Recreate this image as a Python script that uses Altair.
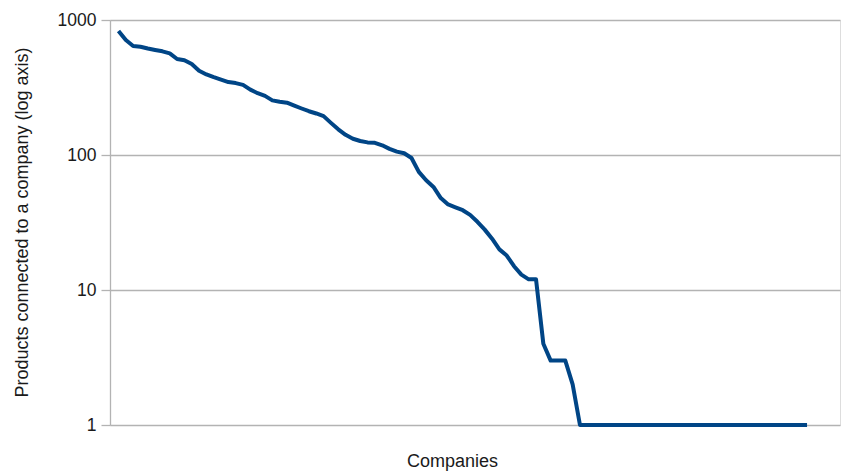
import altair as alt
import pandas as pd

company_index = list(range(95))
products = [
    830, 711, 642, 634, 615, 600, 586, 566, 514, 504,
    472, 421, 395, 377, 362, 347, 341, 331, 305, 287,
    274, 254, 248, 244, 232, 221, 211, 203, 194, 173,
    155, 141, 132, 127, 124, 123, 118, 111, 106, 103,
    95, 75, 65, 58, 48, 43, 41, 39, 36, 32,
    28, 24, 20, 18, 15, 13, 12, 12, 4, 3,
    3, 3, 2, 1, 1, 1, 1, 1, 1, 1,
    1, 1, 1, 1, 1, 1, 1, 1, 1, 1,
    1, 1, 1, 1, 1, 1, 1, 1, 1, 1,
    1, 1, 1, 1, 1,
]
y_ticks = [1, 10, 100, 1000]

df = pd.DataFrame({"company": company_index, "products": products})

FONT = "Liberation Sans"

chart = alt.Chart(df).mark_line(
    color="#004586", strokeWidth=4, strokeJoin="round"
).encode(
    x=alt.X(
        "company:Q",
        scale=alt.Scale(domain=[-1.16, 98.5], nice=False, zero=False),
        axis=alt.Axis(
            title="Companies", domain=False, ticks=False, labels=False, grid=False,
            titleX=342, titleY=36, titleBaseline="middle", titleAlign="center",
            titleFont=FONT, titleFontSize=18, titleFontWeight="normal", titleColor="#1a1a1a",
        ),
    ),
    y=alt.Y(
        "products:Q",
        scale=alt.Scale(type="log", domain=[1, 1000], nice=False),
        axis=alt.Axis(
            title="Products connected to a company (log axis)",
            values=y_ticks, format="d",
            grid=True, gridColor="#b3b3b3", gridWidth=1.3,
            domainColor="#b3b3b3", domainWidth=1.3,
            tickColor="#b3b3b3", tickSize=9, tickWidth=1.3,
            labelFont=FONT, labelFontSize=17.5, labelColor="#1a1a1a", labelPadding=5,
            titleFont=FONT, titleFontSize=18, titleFontWeight="normal", titleColor="#1a1a1a",
            titleAngle=270, titleX=-88, titleY=202, titleAlign="center", titleBaseline="middle",
        ),
    ),
).properties(
    width=730, height=405,
    autosize=alt.AutoSizeParams(type="none"),
    padding={"left": 110, "top": 20, "right": 1, "bottom": 48},
).configure_view(strokeWidth=0).configure(background="white")

chart.save("out.html", embed_options={"renderer": "svg", "actions": False})
